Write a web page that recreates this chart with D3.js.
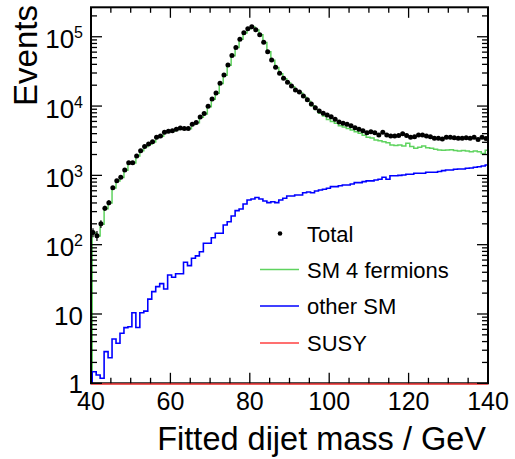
<!DOCTYPE html>
<html>
<head>
<meta charset="utf-8">
<script src="https://cdn.jsdelivr.net/npm/d3@7"></script>
<style>
  html, body { margin: 0; padding: 0; background: #fff; }
  svg { display: block; }
  text { font-family: "Liberation Sans", Arial, Helvetica, sans-serif; fill: #000; }
</style>
</head>
<body>
<svg id="chart" width="515" height="459"></svg>
<script>
// ---- data (1 GeV bins from 40 to 140 GeV) ----
const binLow = 40;
const binWidth = 1;

const total = [
  150, 135, 200, 335, 404, 665, 835, 940, 1200, 1520,
  1520, 1910, 2270, 2600, 2830, 3060, 3550, 3700, 4180, 4330,
  4400, 4620, 4830, 4750, 4750, 5480, 5800, 6950, 7800, 9900,
  12600, 15400, 21300, 28000, 39000, 53500, 70000, 92000, 114000, 131000,
  139000, 126000, 107000, 83000, 61000, 46300, 36300, 29700, 25200, 22000,
  19500, 17000, 15900, 14000, 12300, 10700, 9490, 8500, 7870, 7430,
  7010, 6430, 5900, 5650, 5460, 5210, 4880, 4620, 4410, 4130,
  4270, 4130, 3830, 4180, 3830, 3700, 3700, 3750, 4000, 3750,
  3550, 3620, 3830, 3830, 3700, 3620, 3430, 3430, 3350, 3550,
  3550, 3500, 3430, 3430, 3500, 3430, 3550, 3300, 3550, 3400
];

const totalErr = [
  22, 22, 26, 30, 32, 30, 30, 30, 35, 40,
  40, 45, 48, 50, 55, 55, 60, 60, 65, 66,
  66, 68, 70, 69, 69, 74, 76, 83, 88, 99,
  112, 124, 146, 167, 197, 231, 265, 303, 338, 362,
  373, 355, 327, 288, 247, 215, 190, 172, 159, 148,
  140, 130, 126, 118, 111, 103, 97, 92, 89, 86,
  84, 80, 77, 75, 74, 72, 70, 68, 66, 64,
  65, 64, 62, 65, 62, 61, 61, 61, 63, 61,
  60, 60, 62, 62, 61, 60, 59, 59, 58, 60,
  60, 59, 59, 59, 59, 59, 60, 57, 60, 58
];

const sm4f = [
  148, 133, 197, 330, 400, 660, 830, 935, 1190, 1510,
  1510, 1900, 2260, 2590, 2810, 3040, 3530, 3670, 4150, 4290,
  4360, 4580, 4790, 4700, 4700, 5420, 5730, 6870, 7700, 9800,
  12500, 15300, 21100, 27800, 38800, 53200, 69700, 91700, 113600, 130500,
  138500, 125500, 106500, 82600, 60600, 45900, 35900, 29300, 24700, 21500,
  19000, 16500, 15400, 13400, 11700, 10100, 8900, 7900, 7200, 6400,
  6000, 5650, 5200, 5000, 4750, 4520, 4250, 4050, 3800, 3550,
  3450, 3240, 3150, 3060, 2950, 2750, 2700, 2750, 2650, 2900,
  2600, 2460, 2550, 2650, 2500, 2460, 2380, 2320, 2300, 2320,
  2350, 2280, 2250, 2280, 2250, 2200, 2240, 2200, 2070, 2300
];

const otherSM = [
  1.47, 1.32, 1.18, 2.86, 2.34, 4.36, 3.78, 5.27, 6.35, 6.56,
  10.4, 6.4, 10.4, 11, 16.4, 21, 24.8, 27.4, 22.9, 36.5,
  33.9, 38, 38, 55.7, 49.8, 63.6, 69, 79, 105, 105,
  126, 146, 146, 192, 214, 259, 310, 327, 386, 442,
  457, 480, 457, 427, 404, 417, 404, 442, 467, 504,
  504, 521, 521, 562, 575, 562, 596, 616, 630, 652,
  687, 687, 710, 726, 726, 751, 785, 785, 812, 832,
  832, 859, 880, 938, 878, 990, 990, 1000, 1014, 1038,
  1038, 1072, 1072, 1072, 1109, 1109, 1109, 1140, 1170, 1197,
  1197, 1224, 1237, 1237, 1265, 1280, 1309, 1330, 1368, 1413
];

const susy = [
  0.02, 0.02, 0.03, 0.03, 0.04, 0.05, 0.05, 0.06, 0.07, 0.08,
  0.09, 0.10, 0.11, 0.12, 0.13, 0.14, 0.15, 0.16, 0.17, 0.18,
  0.19, 0.20, 0.21, 0.22, 0.23, 0.24, 0.25, 0.26, 0.27, 0.28,
  0.29, 0.30, 0.31, 0.32, 0.33, 0.34, 0.35, 0.36, 0.37, 0.38,
  0.39, 0.40, 0.41, 0.42, 0.43, 0.44, 0.45, 0.46, 0.47, 0.48,
  0.49, 0.50, 0.51, 0.52, 0.53, 0.54, 0.55, 0.56, 0.57, 0.58,
  0.59, 0.60, 0.61, 0.62, 0.63, 0.64, 0.65, 0.66, 0.67, 0.68,
  0.69, 0.70, 0.71, 0.72, 0.73, 0.74, 0.75, 0.76, 0.77, 0.78,
  0.79, 0.80, 0.81, 0.82, 0.83, 0.84, 0.85, 0.86, 0.87, 0.88,
  0.89, 0.90, 0.91, 0.92, 0.93, 0.94, 0.95, 0.96, 0.97, 0.98
];

const xTickLabels = [40, 60, 80, 100, 120, 140];
const yTickExponents = [0, 1, 2, 3, 4, 5];
const legendLabels = ["Total", "SM 4 fermions", "other SM", "SUSY"];
const xTitle = "Fitted dijet mass / GeV";
const yTitle = "Events";

// ---- layout ----
const frame = { left: 91, right: 488, top: 7.3, bottom: 383.3 };
const yMin = 1, yMax = Math.pow(10, 5.425);
const colors = { total: "#000000", sm4f: "#5fd35f", other: "#0000ff", susy: "#ff4040" };

const svg = d3.select("#chart");
const x = d3.scaleLinear().domain([40, 140]).range([frame.left, frame.right]);
const y = d3.scaleLog().domain([yMin, yMax]).range([frame.bottom, frame.top]).clamp(true);

svg.append("clipPath").attr("id", "plotclip")
  .append("rect")
  .attr("x", frame.left).attr("y", frame.top - 1)
  .attr("width", frame.right - frame.left).attr("height", frame.bottom - frame.top + 3);

function histPoints(vals) {
  const pts = [[binLow, yMin]];
  vals.forEach((v, i) => pts.push([binLow + i * binWidth, v]));
  pts.push([binLow + vals.length * binWidth, vals[vals.length - 1]]);
  return pts;
}
const stepLine = d3.line()
  .x(d => x(d[0]))
  .y(d => y(Math.max(d[1], yMin)))
  .curve(d3.curveStepAfter);

const plot = svg.append("g").attr("clip-path", "url(#plotclip)");

plot.append("path").datum(histPoints(sm4f))
  .attr("d", stepLine).attr("fill", "none")
  .attr("transform", "translate(1.2,0)")
  .attr("stroke", colors.sm4f).attr("stroke-width", 1.5);
plot.append("path").datum(histPoints(otherSM))
  .attr("d", stepLine).attr("fill", "none")
  .attr("transform", "translate(1.2,0)")
  .attr("stroke", colors.other).attr("stroke-width", 1.6);

// ---- frame ----
svg.append("rect")
  .attr("x", frame.left).attr("y", frame.top)
  .attr("width", frame.right - frame.left).attr("height", frame.bottom - frame.top)
  .attr("fill", "none").attr("stroke", "#000").attr("stroke-width", 2);

// SUSY (at/under the lower edge)
svg.append("path").datum(histPoints(susy))
  .attr("d", stepLine).attr("fill", "none")
  .attr("transform", "translate(0,0.8)")
  .attr("stroke", colors.susy).attr("stroke-width", 1.5);

// ---- total points with error bars ----
const centers = total.map((v, i) => ({ c: binLow + (i + 0.5) * binWidth, v: v, e: totalErr[i] }));
const pts = svg.append("g");
pts.selectAll("line.err").data(centers).enter().append("line")
  .attr("x1", d => x(d.c)).attr("x2", d => x(d.c))
  .attr("y1", d => y(d.v + d.e)).attr("y2", d => y(Math.max(d.v - d.e, yMin)))
  .attr("stroke", "#000").attr("stroke-width", 1.2);
pts.selectAll("circle").data(centers).enter().append("circle")
  .attr("cx", d => x(d.c)).attr("cy", d => y(d.v)).attr("r", 2.5)
  .attr("fill", "#000");

// ---- ticks ----
const ticks = svg.append("g").attr("stroke", "#000").attr("stroke-width", 1.3);
const xMinor = d3.range(40, 141, 5);
xMinor.forEach(v => {
  const major = xTickLabels.includes(v);
  const len = major ? 10.5 : 5.5;
  ticks.append("line").attr("x1", x(v)).attr("x2", x(v))
    .attr("y1", frame.bottom).attr("y2", frame.bottom - len);
  ticks.append("line").attr("x1", x(v)).attr("x2", x(v))
    .attr("y1", frame.top).attr("y2", frame.top + len);
});
const yTicks = [];
for (let k = 0; k <= 5; k++) {
  for (let m = 1; m <= 9; m++) {
    const v = m * Math.pow(10, k);
    if (v <= yMax) yTicks.push({ v: v, major: m === 1 });
  }
}
yTicks.forEach(t => {
  const len = t.major ? 11 : 6;
  ticks.append("line").attr("x1", frame.left).attr("x2", frame.left + len)
    .attr("y1", y(t.v)).attr("y2", y(t.v));
  ticks.append("line").attr("x1", frame.right).attr("x2", frame.right - len)
    .attr("y1", y(t.v)).attr("y2", y(t.v));
});

// ---- tick labels ----
svg.append("g").selectAll("text").data(xTickLabels).enter().append("text")
  .attr("x", d => x(d)).attr("y", 410)
  .attr("text-anchor", "middle").attr("font-size", 25)
  .text(d => d);

const yl = svg.append("g");
yTickExponents.forEach(k => {
  const ty = y(Math.pow(10, k));
  const t = yl.append("text").attr("x", 83).attr("y", ty + (k === 0 ? 9.5 : 11.5))
    .attr("text-anchor", "end").attr("font-size", 26);
  if (k === 0) t.text("1");
  else if (k === 1) t.text("10");
  else {
    t.append("tspan").text("10");
    t.append("tspan").attr("font-size", 16).attr("dy", -10).text(String(k));
  }
});

// ---- axis titles ----
svg.append("text").attr("x", 486).attr("y", 450)
  .attr("text-anchor", "end").attr("font-size", 32.5).text(xTitle);
svg.append("text")
  .attr("transform", "translate(37,5) rotate(-90)")
  .attr("text-anchor", "end").attr("font-size", 33).text(yTitle);

// ---- legend ----
const legY = [233.5, 269.5, 306, 343];
const leg = svg.append("g");
leg.append("circle").attr("cx", 280).attr("cy", legY[0]).attr("r", 2.3).attr("fill", "#000");
[colors.sm4f, colors.other, colors.susy].forEach((c, i) => {
  leg.append("line").attr("x1", 260).attr("x2", 299).attr("y1", legY[i + 1]).attr("y2", legY[i + 1])
    .attr("stroke", c).attr("stroke-width", 1.5);
});
legendLabels.forEach((lab, i) => {
  leg.append("text").attr("x", 307).attr("y", legY[i] + 8)
    .attr("font-size", 22).text(lab);
});
</script>
</body>
</html>
